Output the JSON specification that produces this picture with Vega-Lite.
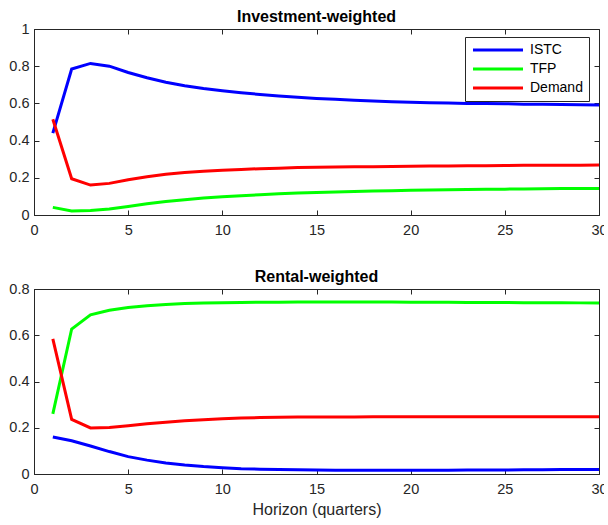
{
  "$schema": "https://vega.github.io/schema/vega-lite/v6.json",
  "padding": {"left": 8, "top": 8, "right": -4, "bottom": 2},
  "background": "white",
  "config": {
    "font": "Liberation Sans",
    "view": {"stroke": "#262626", "strokeWidth": 1},
    "axis": {
      "labelFont": "Liberation Sans",
      "labelFontSize": 14.5,
      "labelColor": "#262626",
      "labelFlush": false,
      "domainColor": "#262626",
      "tickColor": "#262626",
      "tickSize": -5,
      "grid": false,
      "titleFont": "Liberation Sans",
      "titleFontWeight": "normal",
      "titleColor": "#262626",
      "titleFontSize": 16
    },
    "title": {"font": "Liberation Sans", "fontSize": 16, "fontWeight": "bold", "color": "#000000", "offset": -4, "frame": "group"}
  },
  "datasets": {
    "inv": [
      {"h":1,"s":"ISTC","v":0.44},{"h":2,"s":"ISTC","v":0.785},{"h":3,"s":"ISTC","v":0.815},{"h":4,"s":"ISTC","v":0.80},{"h":5,"s":"ISTC","v":0.766},
      {"h":6,"s":"ISTC","v":0.738},{"h":7,"s":"ISTC","v":0.714},{"h":8,"s":"ISTC","v":0.695},{"h":9,"s":"ISTC","v":0.680},{"h":10,"s":"ISTC","v":0.668},
      {"h":11,"s":"ISTC","v":0.657},{"h":12,"s":"ISTC","v":0.648},{"h":13,"s":"ISTC","v":0.640},{"h":14,"s":"ISTC","v":0.633},{"h":15,"s":"ISTC","v":0.627},
      {"h":16,"s":"ISTC","v":0.622},{"h":17,"s":"ISTC","v":0.617},{"h":18,"s":"ISTC","v":0.613},{"h":19,"s":"ISTC","v":0.609},{"h":20,"s":"ISTC","v":0.606},
      {"h":21,"s":"ISTC","v":0.604},{"h":22,"s":"ISTC","v":0.602},{"h":23,"s":"ISTC","v":0.600},{"h":24,"s":"ISTC","v":0.599},{"h":25,"s":"ISTC","v":0.598},
      {"h":26,"s":"ISTC","v":0.596},{"h":27,"s":"ISTC","v":0.595},{"h":28,"s":"ISTC","v":0.594},{"h":29,"s":"ISTC","v":0.593},{"h":30,"s":"ISTC","v":0.592},
      {"h":1,"s":"TFP","v":0.041},{"h":2,"s":"TFP","v":0.022},{"h":3,"s":"TFP","v":0.024},{"h":4,"s":"TFP","v":0.032},{"h":5,"s":"TFP","v":0.046},
      {"h":6,"s":"TFP","v":0.060},{"h":7,"s":"TFP","v":0.072},{"h":8,"s":"TFP","v":0.082},{"h":9,"s":"TFP","v":0.091},{"h":10,"s":"TFP","v":0.098},
      {"h":11,"s":"TFP","v":0.104},{"h":12,"s":"TFP","v":0.109},{"h":13,"s":"TFP","v":0.114},{"h":14,"s":"TFP","v":0.118},{"h":15,"s":"TFP","v":0.121},
      {"h":16,"s":"TFP","v":0.124},{"h":17,"s":"TFP","v":0.127},{"h":18,"s":"TFP","v":0.129},{"h":19,"s":"TFP","v":0.131},{"h":20,"s":"TFP","v":0.133},
      {"h":21,"s":"TFP","v":0.135},{"h":22,"s":"TFP","v":0.136},{"h":23,"s":"TFP","v":0.137},{"h":24,"s":"TFP","v":0.138},{"h":25,"s":"TFP","v":0.139},
      {"h":26,"s":"TFP","v":0.140},{"h":27,"s":"TFP","v":0.141},{"h":28,"s":"TFP","v":0.142},{"h":29,"s":"TFP","v":0.142},{"h":30,"s":"TFP","v":0.143},
      {"h":1,"s":"Demand","v":0.515},{"h":2,"s":"Demand","v":0.195},{"h":3,"s":"Demand","v":0.161},{"h":4,"s":"Demand","v":0.170},{"h":5,"s":"Demand","v":0.190},
      {"h":6,"s":"Demand","v":0.206},{"h":7,"s":"Demand","v":0.219},{"h":8,"s":"Demand","v":0.228},{"h":9,"s":"Demand","v":0.235},{"h":10,"s":"Demand","v":0.241},
      {"h":11,"s":"Demand","v":0.245},{"h":12,"s":"Demand","v":0.249},{"h":13,"s":"Demand","v":0.252},{"h":14,"s":"Demand","v":0.255},{"h":15,"s":"Demand","v":0.257},
      {"h":16,"s":"Demand","v":0.258},{"h":17,"s":"Demand","v":0.259},{"h":18,"s":"Demand","v":0.260},{"h":19,"s":"Demand","v":0.261},{"h":20,"s":"Demand","v":0.262},
      {"h":21,"s":"Demand","v":0.263},{"h":22,"s":"Demand","v":0.264},{"h":23,"s":"Demand","v":0.265},{"h":24,"s":"Demand","v":0.265},{"h":25,"s":"Demand","v":0.266},
      {"h":26,"s":"Demand","v":0.267},{"h":27,"s":"Demand","v":0.267},{"h":28,"s":"Demand","v":0.268},{"h":29,"s":"Demand","v":0.268},{"h":30,"s":"Demand","v":0.269}
    ],
    "rent": [
      {"h":1,"s":"ISTC","v":0.160},{"h":2,"s":"ISTC","v":0.144},{"h":3,"s":"ISTC","v":0.121},{"h":4,"s":"ISTC","v":0.097},{"h":5,"s":"ISTC","v":0.075},
      {"h":6,"s":"ISTC","v":0.060},{"h":7,"s":"ISTC","v":0.048},{"h":8,"s":"ISTC","v":0.039},{"h":9,"s":"ISTC","v":0.032},{"h":10,"s":"ISTC","v":0.027},
      {"h":11,"s":"ISTC","v":0.023},{"h":12,"s":"ISTC","v":0.021},{"h":13,"s":"ISTC","v":0.019},{"h":14,"s":"ISTC","v":0.018},{"h":15,"s":"ISTC","v":0.017},
      {"h":16,"s":"ISTC","v":0.016},{"h":17,"s":"ISTC","v":0.016},{"h":18,"s":"ISTC","v":0.016},{"h":19,"s":"ISTC","v":0.016},{"h":20,"s":"ISTC","v":0.016},
      {"h":21,"s":"ISTC","v":0.016},{"h":22,"s":"ISTC","v":0.016},{"h":23,"s":"ISTC","v":0.017},{"h":24,"s":"ISTC","v":0.017},{"h":25,"s":"ISTC","v":0.017},
      {"h":26,"s":"ISTC","v":0.018},{"h":27,"s":"ISTC","v":0.018},{"h":28,"s":"ISTC","v":0.019},{"h":29,"s":"ISTC","v":0.019},{"h":30,"s":"ISTC","v":0.020},
      {"h":1,"s":"TFP","v":0.260},{"h":2,"s":"TFP","v":0.627},{"h":3,"s":"TFP","v":0.688},{"h":4,"s":"TFP","v":0.708},{"h":5,"s":"TFP","v":0.720},
      {"h":6,"s":"TFP","v":0.728},{"h":7,"s":"TFP","v":0.733},{"h":8,"s":"TFP","v":0.737},{"h":9,"s":"TFP","v":0.739},{"h":10,"s":"TFP","v":0.741},
      {"h":11,"s":"TFP","v":0.742},{"h":12,"s":"TFP","v":0.743},{"h":13,"s":"TFP","v":0.743},{"h":14,"s":"TFP","v":0.744},{"h":15,"s":"TFP","v":0.744},
      {"h":16,"s":"TFP","v":0.744},{"h":17,"s":"TFP","v":0.744},{"h":18,"s":"TFP","v":0.744},{"h":19,"s":"TFP","v":0.744},{"h":20,"s":"TFP","v":0.743},
      {"h":21,"s":"TFP","v":0.743},{"h":22,"s":"TFP","v":0.743},{"h":23,"s":"TFP","v":0.742},{"h":24,"s":"TFP","v":0.742},{"h":25,"s":"TFP","v":0.742},
      {"h":26,"s":"TFP","v":0.741},{"h":27,"s":"TFP","v":0.741},{"h":28,"s":"TFP","v":0.741},{"h":29,"s":"TFP","v":0.740},{"h":30,"s":"TFP","v":0.740},
      {"h":1,"s":"Demand","v":0.584},{"h":2,"s":"Demand","v":0.236},{"h":3,"s":"Demand","v":0.199},{"h":4,"s":"Demand","v":0.201},{"h":5,"s":"Demand","v":0.209},
      {"h":6,"s":"Demand","v":0.217},{"h":7,"s":"Demand","v":0.224},{"h":8,"s":"Demand","v":0.230},{"h":9,"s":"Demand","v":0.235},{"h":10,"s":"Demand","v":0.239},
      {"h":11,"s":"Demand","v":0.242},{"h":12,"s":"Demand","v":0.244},{"h":13,"s":"Demand","v":0.245},{"h":14,"s":"Demand","v":0.246},{"h":15,"s":"Demand","v":0.247},
      {"h":16,"s":"Demand","v":0.247},{"h":17,"s":"Demand","v":0.247},{"h":18,"s":"Demand","v":0.248},{"h":19,"s":"Demand","v":0.248},{"h":20,"s":"Demand","v":0.248},
      {"h":21,"s":"Demand","v":0.248},{"h":22,"s":"Demand","v":0.248},{"h":23,"s":"Demand","v":0.248},{"h":24,"s":"Demand","v":0.248},{"h":25,"s":"Demand","v":0.248},
      {"h":26,"s":"Demand","v":0.248},{"h":27,"s":"Demand","v":0.248},{"h":28,"s":"Demand","v":0.248},{"h":29,"s":"Demand","v":0.248},{"h":30,"s":"Demand","v":0.248}
    ]
  },
  "spacing": 74,
  "bounds": "flush",
  "resolve": {"legend": {"color": "independent"}},
  "vconcat": [
    {
      "title": {"text": "Investment-weighted"},
      "width": 565,
      "height": 186,
      "data": {"name": "inv"},
      "resolve": {"axis": {"x": "independent", "y": "independent"}},
      "layer": [
        {
          "mark": {"type": "line", "strokeWidth": 3, "clip": true},
          "encoding": {
            "x": {"field": "h", "type": "quantitative", "scale": {"domain": [0, 30], "nice": false},
                  "axis": {"values": [0, 5, 10, 15, 20, 25, 30], "title": null, "labelPadding": 13}},
            "y": {"field": "v", "type": "quantitative", "scale": {"domain": [0, 1], "nice": false},
                  "axis": {"values": [0, 0.2, 0.4, 0.6, 0.8, 1], "format": "~g", "title": null, "labelPadding": 10}},
            "color": {"field": "s", "type": "nominal",
                      "scale": {"domain": ["ISTC", "TFP", "Demand"], "range": ["#0000FF", "#00FF00", "#FF0000"]},
                      "legend": {"orient": "none", "legendX": 431, "legendY": 8, "title": null,
                                 "symbolType": "M-5,0H5", "symbolSize": 100, "symbolStrokeWidth": 3,
                                 "symbolOffset": 20, "labelOffset": 25, "labelFontSize": 14,
                                 "labelFont": "Liberation Sans", "labelColor": "#000000",
                                 "strokeColor": "#262626", "fillColor": "white", "padding": 6, "rowPadding": 5}}
          }
        },
        {
          "mark": {"type": "line", "strokeOpacity": 0},
          "encoding": {
            "x": {"field": "h", "type": "quantitative", "scale": {"domain": [0, 30], "nice": false},
                  "axis": {"orient": "top", "values": [0, 5, 10, 15, 20, 25, 30], "labels": false, "title": null, "domain": false}},
            "y": {"field": "v", "type": "quantitative", "scale": {"domain": [0, 1], "nice": false},
                  "axis": {"orient": "right", "values": [0, 0.2, 0.4, 0.6, 0.8, 1], "labels": false, "title": null, "domain": false}},
            "detail": {"field": "s"}
          }
        }
      ]
    },
    {
      "title": {"text": "Rental-weighted"},
      "width": 565,
      "height": 185,
      "data": {"name": "rent"},
      "resolve": {"axis": {"x": "independent", "y": "independent"}},
      "layer": [
        {
          "mark": {"type": "line", "strokeWidth": 3, "clip": true},
          "encoding": {
            "x": {"field": "h", "type": "quantitative", "scale": {"domain": [0, 30], "nice": false},
                  "axis": {"values": [0, 5, 10, 15, 20, 25, 30], "title": "Horizon (quarters)", "labelPadding": 13, "titlePadding": 6}},
            "y": {"field": "v", "type": "quantitative", "scale": {"domain": [0, 0.8], "nice": false},
                  "axis": {"values": [0, 0.2, 0.4, 0.6, 0.8], "format": "~g", "title": null, "labelPadding": 10}},
            "color": {"field": "s", "type": "nominal",
                      "scale": {"domain": ["ISTC", "TFP", "Demand"], "range": ["#0000FF", "#00FF00", "#FF0000"]},
                      "legend": null}
          }
        },
        {
          "mark": {"type": "line", "strokeOpacity": 0},
          "encoding": {
            "x": {"field": "h", "type": "quantitative", "scale": {"domain": [0, 30], "nice": false},
                  "axis": {"orient": "top", "values": [0, 5, 10, 15, 20, 25, 30], "labels": false, "title": null, "domain": false}},
            "y": {"field": "v", "type": "quantitative", "scale": {"domain": [0, 0.8], "nice": false},
                  "axis": {"orient": "right", "values": [0, 0.2, 0.4, 0.6, 0.8], "labels": false, "title": null, "domain": false}},
            "detail": {"field": "s"}
          }
        }
      ]
    }
  ]
}
